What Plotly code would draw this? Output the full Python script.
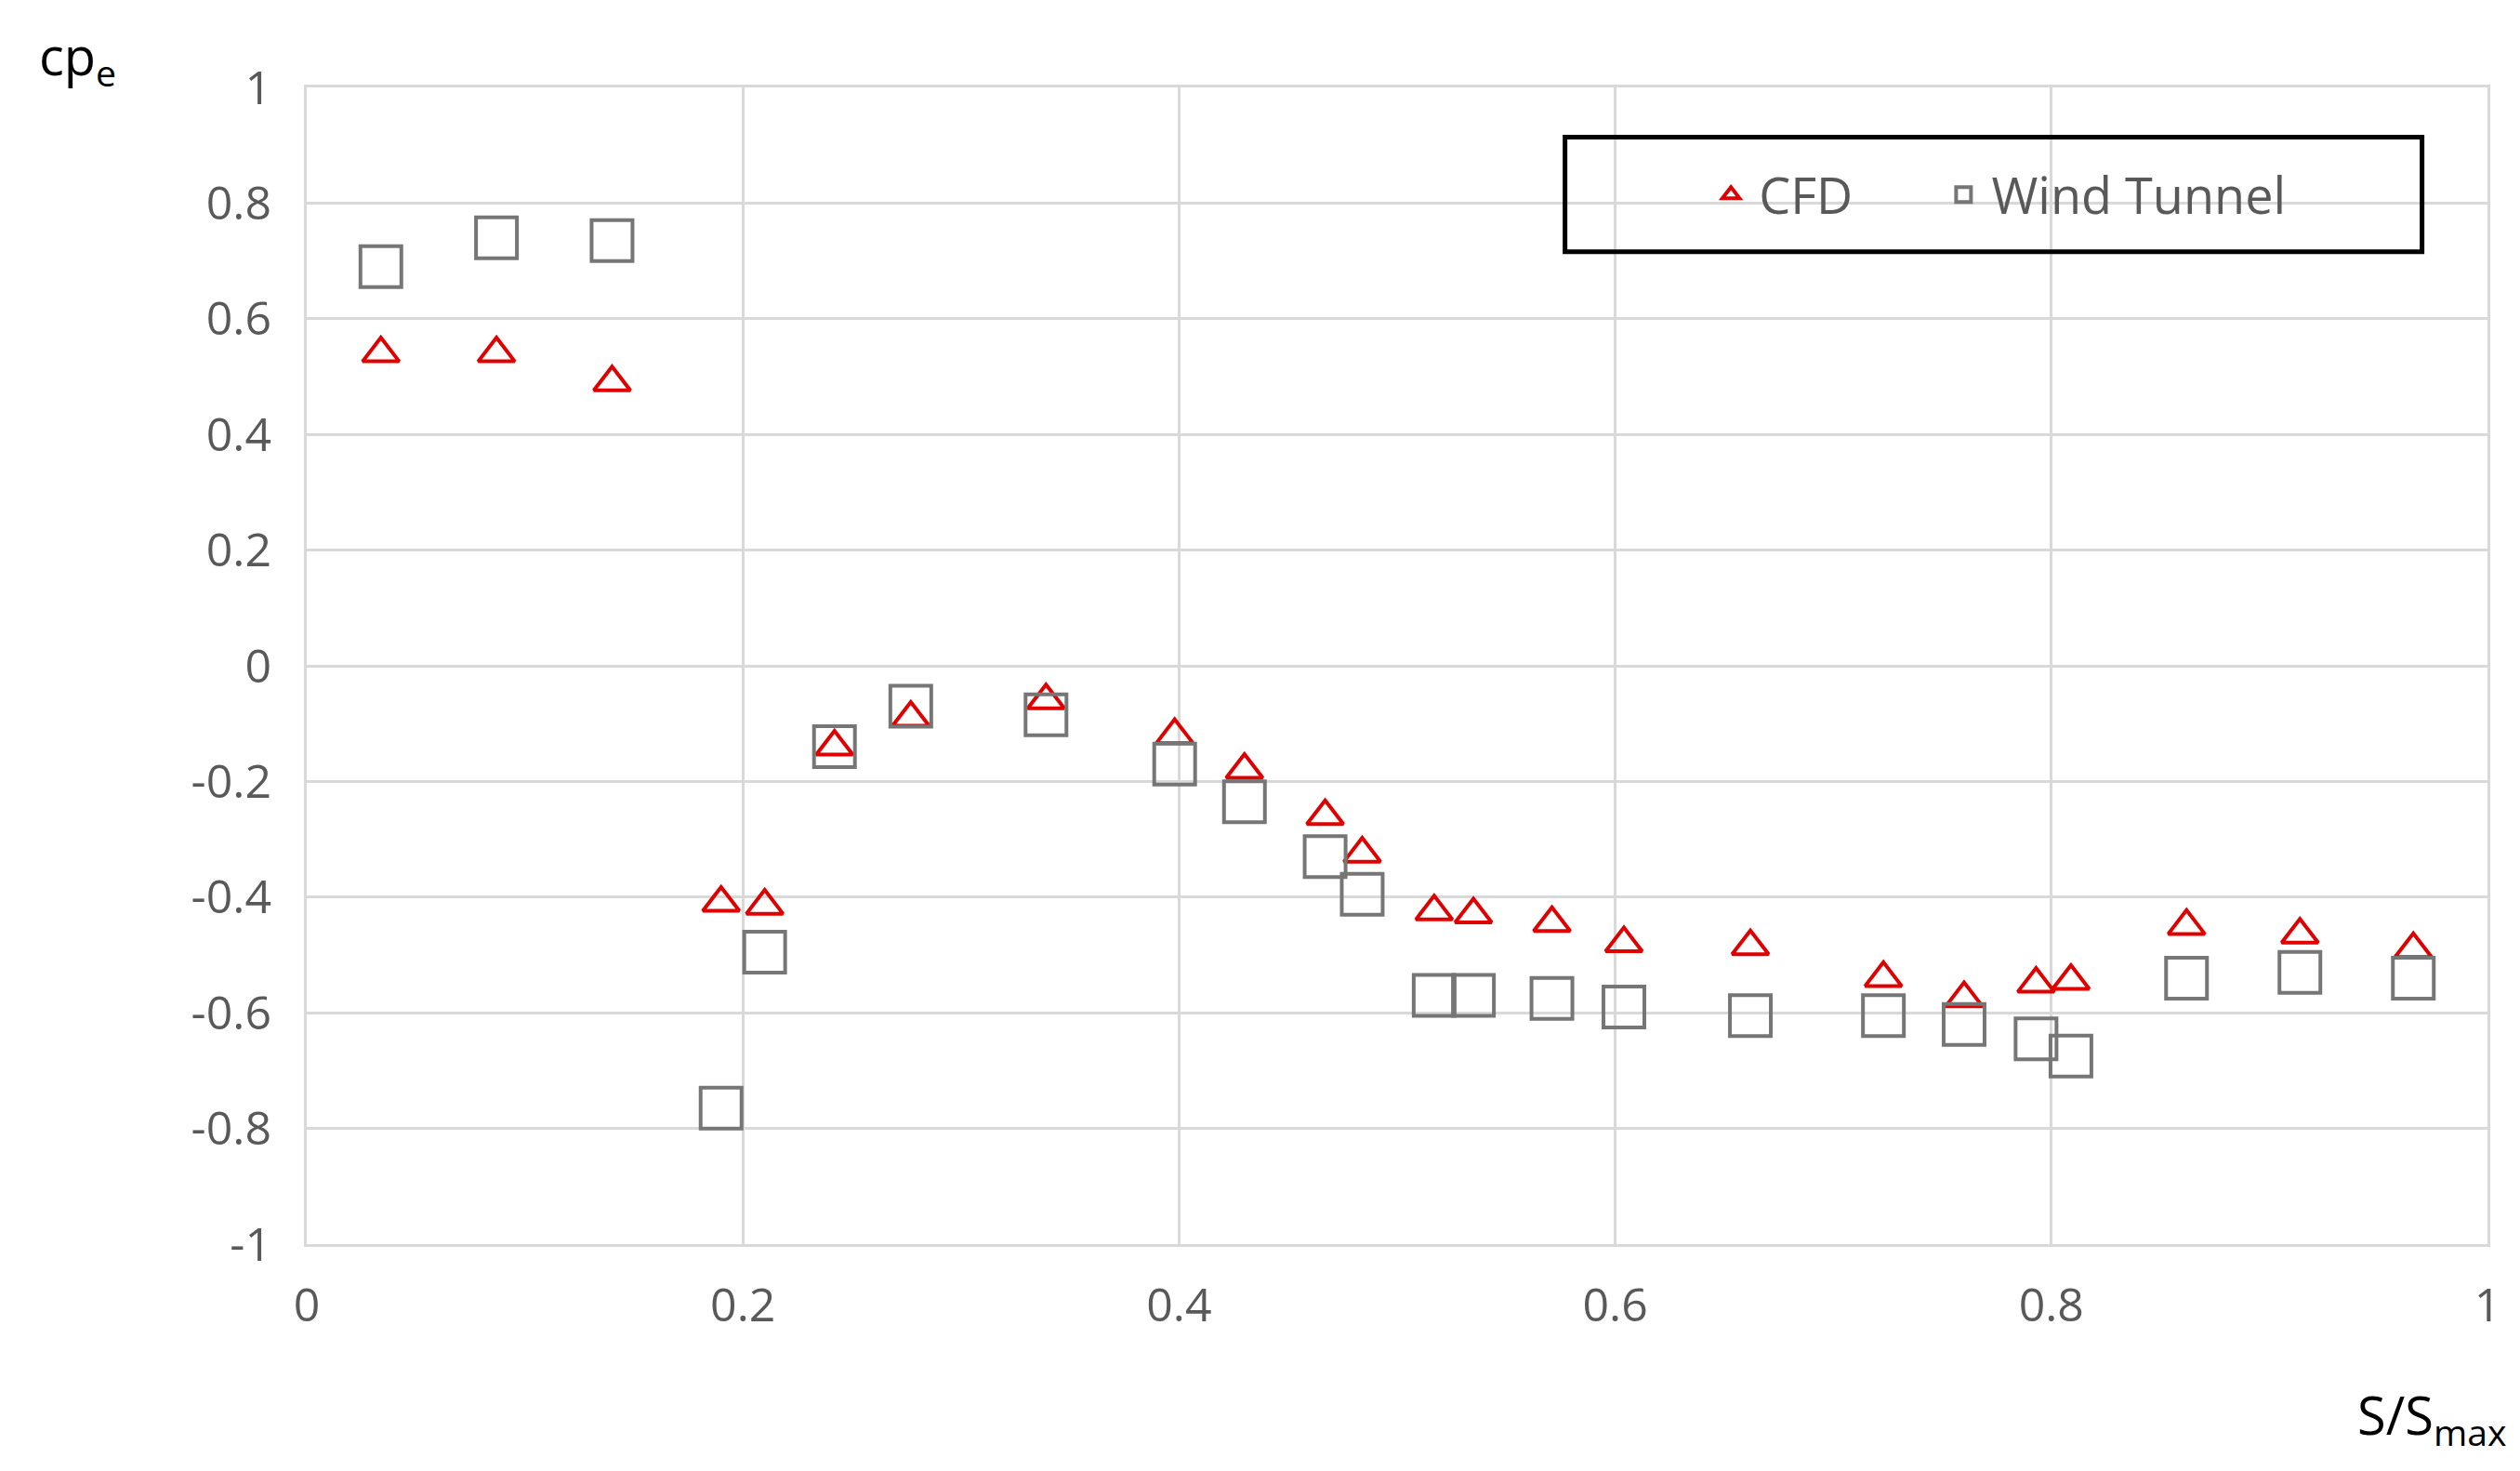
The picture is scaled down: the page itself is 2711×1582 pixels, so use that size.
import plotly.graph_objects as go

x_vals = [0.034,0.087,0.140,0.190,0.210,0.242,0.277,0.339,0.398,0.430,0.467,0.484,0.517,0.535,0.571,0.604,0.662,0.723,0.760,0.793,0.809,0.862,0.914,0.966]
cfd = [0.54,0.54,0.49,-0.41,-0.415,-0.14,-0.09,-0.06,-0.12,-0.18,-0.26,-0.325,-0.425,-0.43,-0.445,-0.48,-0.485,-0.54,-0.575,-0.55,-0.545,-0.45,-0.465,-0.49]
wind_tunnel = [0.69,0.74,0.735,-0.765,-0.495,-0.14,-0.07,-0.085,-0.17,-0.235,-0.33,-0.395,-0.57,-0.57,-0.575,-0.59,-0.605,-0.605,-0.62,-0.645,-0.675,-0.54,-0.53,-0.54]
x_ticks = [0,0.2,0.4,0.6,0.8,1]
x_tick_text = ["0","0.2","0.4","0.6","0.8","1"]
y_ticks = [-1,-0.8,-0.6,-0.4,-0.2,0,0.2,0.4,0.6,0.8,1]
y_tick_text = ["-1","-0.8","-0.6","-0.4","-0.2","0","0.2","0.4","0.6","0.8","1"]

font = "Open Sans, Calibri, Liberation Sans, sans-serif"
fig = go.Figure()
fig.add_trace(go.Scatter(x=x_vals, y=cfd, mode="markers", name="CFD      ",
    marker=dict(symbol="triangle-up-open", size=34, color="#e00000", line=dict(width=4))))
fig.add_trace(go.Scatter(x=x_vals, y=wind_tunnel, mode="markers", name="Wind Tunnel",
    marker=dict(symbol="square-open", size=44, color="#767676", line=dict(width=4))))

fig.update_layout(
    width=2711, height=1582, paper_bgcolor="white", plot_bgcolor="white",
    margin=dict(l=322, r=43, t=86, b=252),
    font=dict(family=font, size=50, color="#595959"),
    showlegend=True,
    legend=dict(orientation="h", x=0.775, y=0.907, xanchor="center", yanchor="middle",
                bgcolor="rgba(0,0,0,0)", font=dict(size=54, color="#595959"), itemwidth=50),
    xaxis=dict(range=[0,1], tickvals=x_ticks, ticktext=x_tick_text, showgrid=True,
               gridcolor="#d9d9d9", gridwidth=3, zeroline=False, showline=True,
               linecolor="#d9d9d9", linewidth=3, mirror=True, ticks="", ticklabelstandoff=20),
    yaxis=dict(range=[-1,1], tickvals=y_ticks, ticktext=y_tick_text, showgrid=True,
               gridcolor="#d9d9d9", gridwidth=3, zeroline=False, showline=True,
               linecolor="#d9d9d9", linewidth=3, mirror=True, ticks="", ticklabelstandoff=25),
    shapes=[dict(type="rect", xref="paper", yref="paper", x0=0.577, x1=0.970, y0=0.858, y1=0.957,
                 line=dict(color="black", width=5), fillcolor="rgba(0,0,0,0)")],
    annotations=[
        dict(text="cp<sub>e</sub>", xref="paper", yref="paper", x=-0.105, y=1.025, xanchor="center",
             yanchor="middle", showarrow=False, font=dict(size=56, color="black")),
        dict(text="S/S<sub>max</sub>", xref="paper", yref="paper", x=1.01, y=-0.15, xanchor="right",
             yanchor="middle", showarrow=False, font=dict(size=56, color="black")),
    ],
)
fig.write_html("out.html")
